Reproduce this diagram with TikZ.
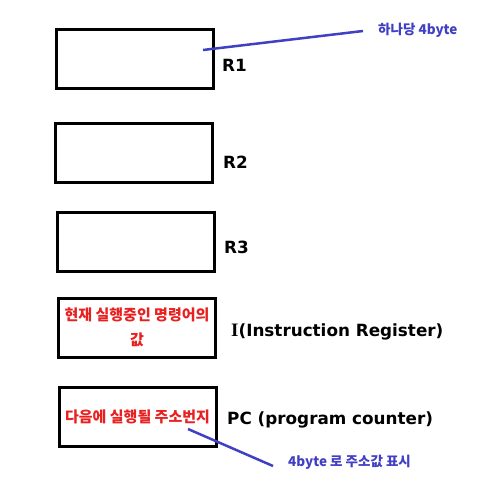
\documentclass[tikz,border=0pt]{standalone}
\usepackage{fontspec}
\setmainfont{Noto Sans CJK KR}
\newfontfamily\serifI{Liberation Serif}
\newfontfamily\latinlab{DejaVu Sans}
\definecolor{myred}{RGB}{232,32,32}
\definecolor{myblue}{RGB}{64,64,196}
\begin{document}
\begin{tikzpicture}[x=1pt,y=-1pt,
  reg/.style={draw=black,line width=3pt,minimum width=157pt,minimum height=59pt,inner sep=0pt,align=center,font=\bfseries\fontsize{15}{25}\selectfont,text=myred},
  lab/.style={anchor=west,inner sep=0pt,font=\latinlab\bfseries\fontsize{16.8}{18}\selectfont},
  note/.style={anchor=west,inner sep=0pt,text=myblue,font=\bfseries\fontsize{13.5}{15}\selectfont},
  pointer/.style={draw=myblue,line width=2.5pt}]
\useasboundingbox (0,0) rectangle (480,500);
\fill[white] (0,0) rectangle (480,500);
\node[reg] (r1) at (134.5,59.5) {};
\node[reg] (r2) at (134,152.5) {};
\node[reg] (r3) at (136,241.5) {};
\node[reg] (ir) at (137,327.5) {현재 실행중인 명령어의\\값};
\node[reg] (pc) at (137.5,417) {다음에 실행될 주소번지};
\node[lab] (l1) at (222,65) {R1};
\node[lab] (l2) at (223,162) {R2};
\node[lab] (l3) at (224,247) {R3};
\node[lab] (lir) at (231,332) {{\serifI\fontsize{19}{18}\selectfont I}(Instruction Register)};
\node[lab] (lpc) at (227,420) {PC (program counter)};
\node[note] (n1) at (378,30) {하나당 4byte};
\node[note] (n2) at (288,462) {4byte 로 주소값 표시};
\coordinate (a1) at (203,50);
\coordinate (a2) at (188,429);
\draw[pointer] (a1) -- ([xshift=-15pt,yshift=-1pt]n1.west);
\draw[pointer] (a2) -- ([xshift=-15pt,yshift=-4pt]n2.west);
\end{tikzpicture}
\end{document}
